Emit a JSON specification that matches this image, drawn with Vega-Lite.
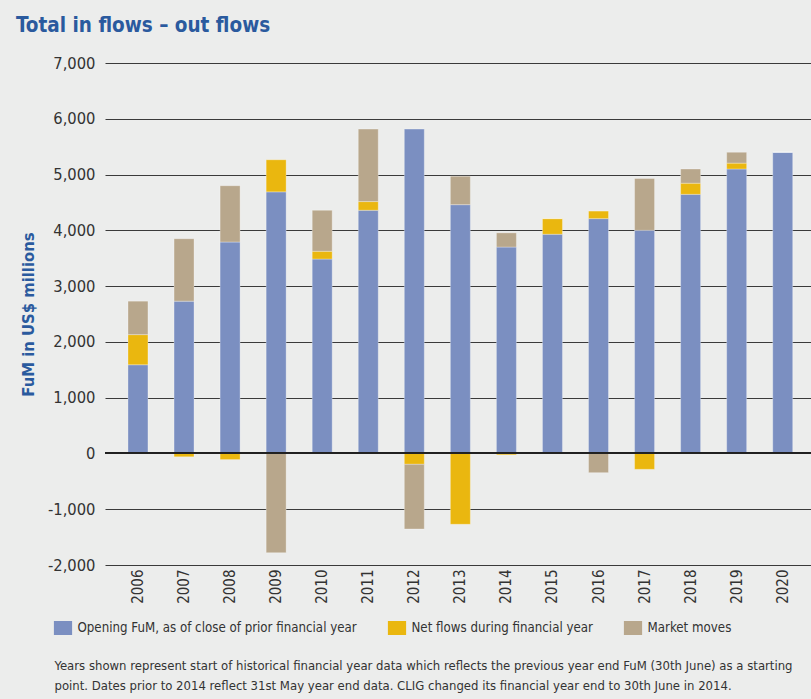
{
  "$schema": "https://vega.github.io/schema/vega-lite/v6.json",
  "width": 706,
  "height": 502,
  "autosize": {"type": "none"},
  "padding": {"left": 105, "top": 63, "right": 0, "bottom": 134},
  "background": "#ECEDEC",
  "config": {
    "view": {"stroke": null},
    "font": "DejaVu Sans Condensed, sans-serif"
  },
  "title": {
    "text": "Total in flows – out flows",
    "anchor": "start",
    "frame": "group",
    "dx": -89,
    "offset": 19,
    "fontSize": 20.5,
    "fontWeight": "bold",
    "color": "#2a5a9e",
    "font": "DejaVu Sans Condensed, sans-serif"
  },
  "data": {
    "values": [
      {"year": "2006", "series": "Opening FuM, as of close of prior financial year", "value": 1590},
      {"year": "2006", "series": "Net flows during financial year", "value": 540},
      {"year": "2006", "series": "Market moves", "value": 600},
      {"year": "2007", "series": "Opening FuM, as of close of prior financial year", "value": 2730},
      {"year": "2007", "series": "Net flows during financial year", "value": -60},
      {"year": "2007", "series": "Market moves", "value": 1120},
      {"year": "2008", "series": "Opening FuM, as of close of prior financial year", "value": 3790},
      {"year": "2008", "series": "Net flows during financial year", "value": -110},
      {"year": "2008", "series": "Market moves", "value": 1010},
      {"year": "2009", "series": "Opening FuM, as of close of prior financial year", "value": 4690},
      {"year": "2009", "series": "Net flows during financial year", "value": 575},
      {"year": "2009", "series": "Market moves", "value": -1780},
      {"year": "2010", "series": "Opening FuM, as of close of prior financial year", "value": 3485},
      {"year": "2010", "series": "Net flows during financial year", "value": 140},
      {"year": "2010", "series": "Market moves", "value": 735},
      {"year": "2011", "series": "Opening FuM, as of close of prior financial year", "value": 4360},
      {"year": "2011", "series": "Net flows during financial year", "value": 155},
      {"year": "2011", "series": "Market moves", "value": 1300},
      {"year": "2012", "series": "Opening FuM, as of close of prior financial year", "value": 5815},
      {"year": "2012", "series": "Net flows during financial year", "value": -195},
      {"year": "2012", "series": "Market moves", "value": -1160},
      {"year": "2013", "series": "Opening FuM, as of close of prior financial year", "value": 4460},
      {"year": "2013", "series": "Net flows during financial year", "value": -1270},
      {"year": "2013", "series": "Market moves", "value": 510},
      {"year": "2014", "series": "Opening FuM, as of close of prior financial year", "value": 3700},
      {"year": "2014", "series": "Net flows during financial year", "value": -25},
      {"year": "2014", "series": "Market moves", "value": 255},
      {"year": "2015", "series": "Opening FuM, as of close of prior financial year", "value": 3930},
      {"year": "2015", "series": "Net flows during financial year", "value": 280},
      {"year": "2015", "series": "Market moves", "value": 0},
      {"year": "2016", "series": "Opening FuM, as of close of prior financial year", "value": 4210},
      {"year": "2016", "series": "Net flows during financial year", "value": 135},
      {"year": "2016", "series": "Market moves", "value": -345},
      {"year": "2017", "series": "Opening FuM, as of close of prior financial year", "value": 4000},
      {"year": "2017", "series": "Net flows during financial year", "value": -285},
      {"year": "2017", "series": "Market moves", "value": 930},
      {"year": "2018", "series": "Opening FuM, as of close of prior financial year", "value": 4645},
      {"year": "2018", "series": "Net flows during financial year", "value": 200},
      {"year": "2018", "series": "Market moves", "value": 255},
      {"year": "2019", "series": "Opening FuM, as of close of prior financial year", "value": 5100},
      {"year": "2019", "series": "Net flows during financial year", "value": 105},
      {"year": "2019", "series": "Market moves", "value": 195},
      {"year": "2020", "series": "Opening FuM, as of close of prior financial year", "value": 5400},
      {"year": "2020", "series": "Net flows during financial year", "value": 0},
      {"year": "2020", "series": "Market moves", "value": 0}
    ]
  },
  "layer": [
    {
      "mark": {"type": "bar", "stroke": "#ffffff", "strokeOpacity": 0.3, "strokeWidth": 1},
      "encoding": {
        "x": {
          "field": "year",
          "type": "ordinal",
          "scale": {"paddingInner": 0.566, "paddingOuter": 0.448, "align": 0.557},
          "axis": {
            "title": [
              "Years shown represent start of historical financial year data which reflects the previous year end FuM (30th June) as a starting",
              "point. Dates prior to 2014 reflect 31st May year end data. CLIG changed its financial year end to 30th June in 2014."
            ],
            "titleAnchor": "start",
            "titleAlign": "left",
            "titleX": -51,
            "titleY": 104,
            "titleBaseline": "alphabetic",
            "titleFontSize": 13,
            "titleFontWeight": "normal",
            "titleColor": "#333333",
            "titleLineHeight": 20,
            "labelAngle": -90,
            "labelAlign": "right",
            "labelBaseline": "middle",
            "labelFontSize": 15,
            "labelColor": "#333333",
            "labelPadding": 4,
            "ticks": false,
            "tickSize": 0,
            "domain": false,
            "grid": false
          }
        },
        "y": {
          "field": "value",
          "type": "quantitative",
          "stack": "zero",
          "scale": {"domain": [-2000, 7000], "nice": false},
          "axis": {
            "title": "FuM in US$ millions",
            "values": [-2000, -1000, 0, 1000, 2000, 3000, 4000, 5000, 6000, 7000],
            "labelExpr": "replace(format(datum.value, ','), '\u2212', '-')",
            "labelFontSize": 16.4,
            "labelColor": "#333333",
            "labelPadding": 10,
            "ticks": false,
            "tickSize": 0,
            "domain": false,
            "gridColor": "#3a3a3a",
            "gridWidth": 1,
            "gridOpacity": 1,
            "titleFontSize": 16.5,
            "titleFontWeight": "bold",
            "titleColor": "#2a5a9e",
            "titlePadding": 11
          }
        },
        "color": {
          "field": "series",
          "type": "nominal",
          "scale": {
            "domain": ["Opening FuM, as of close of prior financial year", "Net flows during financial year", "Market moves"],
            "range": ["#7b8fc1", "#eab70f", "#b8a78c"]
          },
          "legend": {
            "orient": "none",
            "legendX": -49,
            "legendY": 558,
            "direction": "horizontal",
            "title": null,
            "padding": 0,
            "symbolType": "M-1.3,-1H1.3V1H-1.3Z",
            "symbolSize": 196,
            "symbolStrokeWidth": 0,
            "symbolOpacity": 1,
            "labelFontSize": 13.2,
            "labelOffset": 7.5,
            "labelColor": "#333333",
            "labelLimit": 400,
            "columnPadding": 30
          }
        },
        "order": {"field": "series", "sort": "descending"}
      }
    },
    {
      "mark": {"type": "rule", "color": "#222222", "strokeWidth": 1.2},
      "encoding": {"y": {"datum": 0}}
    }
  ]
}
